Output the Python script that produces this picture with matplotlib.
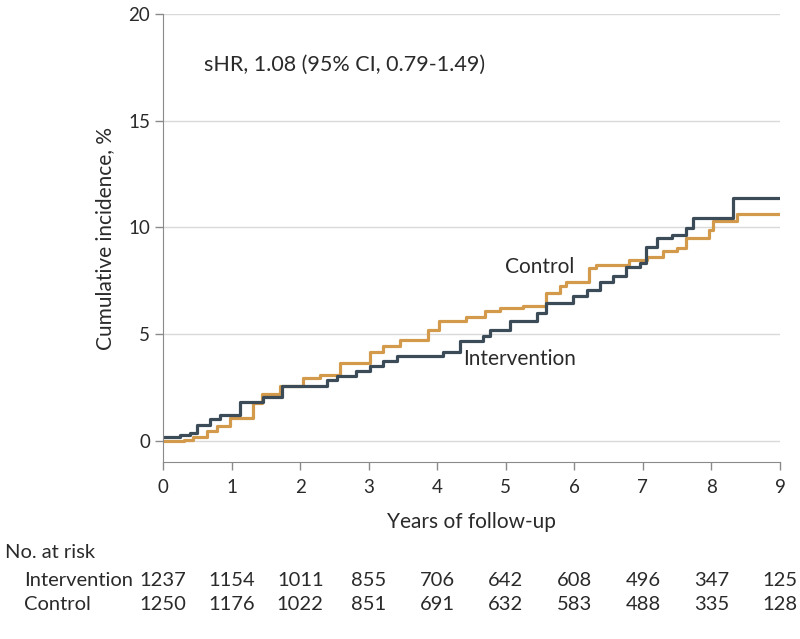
import matplotlib.pyplot as plt
import numpy as np

plt.rcParams['font.family'] = ['Lato', 'DejaVu Sans']

# step curve knots (years, cumulative incidence %)
int_t = [0, 0.25, 0.39, 0.5, 0.69, 0.83, 1.12, 1.46, 1.73, 2.39, 2.53, 2.82, 3.02, 3.21,
         3.41, 4.08, 4.33, 4.67, 4.77, 5.06, 5.45, 5.59, 5.98, 6.18, 6.37, 6.56, 6.76,
         6.95, 7.05, 7.2, 7.43, 7.63, 7.73, 8.31, 9.0]
int_y = [0.15, 0.28, 0.37, 0.75, 1.0, 1.2, 1.8, 2.07, 2.54, 2.86, 3.04, 3.25, 3.48, 3.75,
         3.98, 4.18, 4.65, 4.89, 5.2, 5.59, 5.98, 6.45, 6.76, 7.07, 7.46, 7.7, 8.16,
         8.32, 9.1, 9.49, 9.65, 9.96, 10.43, 11.37, 11.37]

ctl_t = [0, 0.3, 0.44, 0.64, 0.78, 0.98, 1.31, 1.44, 1.7, 2.04, 2.29, 2.58, 3.02, 3.21,
         3.45, 3.87, 4.03, 4.42, 4.7, 4.91, 5.25, 5.59, 5.79, 5.88, 6.22, 6.32, 6.8,
         7.06, 7.3, 7.49, 7.63, 7.97, 8.02, 8.37, 9.0]
ctl_y = [0.0, 0.05, 0.15, 0.44, 0.67, 1.07, 1.77, 2.2, 2.54, 2.95, 3.09, 3.64, 4.18, 4.42,
         4.7, 5.2, 5.59, 5.82, 6.06, 6.22, 6.29, 6.92, 7.23, 7.46, 8.09, 8.24, 8.48,
         8.63, 8.87, 9.02, 9.49, 9.88, 10.32, 10.63, 10.63]

years = list(range(10))
risk_int = [1237, 1154, 1011, 855, 706, 642, 608, 496, 347, 125]
risk_ctl = [1250, 1176, 1022, 851, 691, 632, 583, 488, 335, 128]

c_int = '#3b4b57'
c_ctl = '#d39a4b'
grey = '#8a8a8a'
txt = '#2a2a2a'

fig = plt.figure(figsize=(8, 6.39), dpi=100)
ax = fig.add_axes([0.204, 0.277, 0.771, 0.701])

for v in [0, 5, 10, 15, 20]:
    ax.axhline(v, color='#d9d9d9', lw=1, zorder=0)

ax.step(ctl_t, ctl_y, where='post', color=c_ctl, lw=2.3)
ax.step(int_t, int_y, where='post', color=c_int, lw=2.3)

ax.set_xlim(0, 9)
ax.set_ylim(-1, 20)
ax.set_xticks(years)
ax.set_yticks([0, 5, 10, 15, 20])
ax.tick_params(labelsize=13.5, colors=txt, length=6, width=1)
ax.tick_params(axis='x', pad=6)
ax.tick_params(axis='both', color=grey)
for s in ['top', 'right']:
    ax.spines[s].set_visible(False)
for s in ['left', 'bottom']:
    ax.spines[s].set_color(grey)

ax.set_xlabel('Years of follow-up', fontsize=15, labelpad=12, color=txt)
ax.set_ylabel('Cumulative incidence, %', fontsize=15, labelpad=9, color=txt)

ax.text(0.6, 17.6, 'sHR, 1.08 (95% CI, 0.79-1.49)', fontsize=15.5, va='center', color=txt)
ax.text(5.5, 8.15, 'Control', fontsize=15, ha='center', va='center', color=txt)
ax.text(5.2, 3.85, 'Intervention', fontsize=15, ha='center', va='center', color=txt)

# number at risk table
def xfig(x):
    return 0.204 + 0.771 * x / 9

fig.text(5 / 800, 1 - 553 / 639, 'No. at risk', fontsize=14.5, va='center', color=txt)
fig.text(24 / 800, 1 - 580 / 639, 'Intervention', fontsize=14.5, va='center', color=txt)
fig.text(24 / 800, 1 - 604 / 639, 'Control', fontsize=14.5, va='center', color=txt)
for x, a, b in zip(years, risk_int, risk_ctl):
    fig.text(xfig(x), 1 - 580 / 639, str(a), fontsize=14.5, ha='center', va='center', color=txt)
    fig.text(xfig(x), 1 - 604 / 639, str(b), fontsize=14.5, ha='center', va='center', color=txt)

fig.savefig('out.png', dpi=100)
